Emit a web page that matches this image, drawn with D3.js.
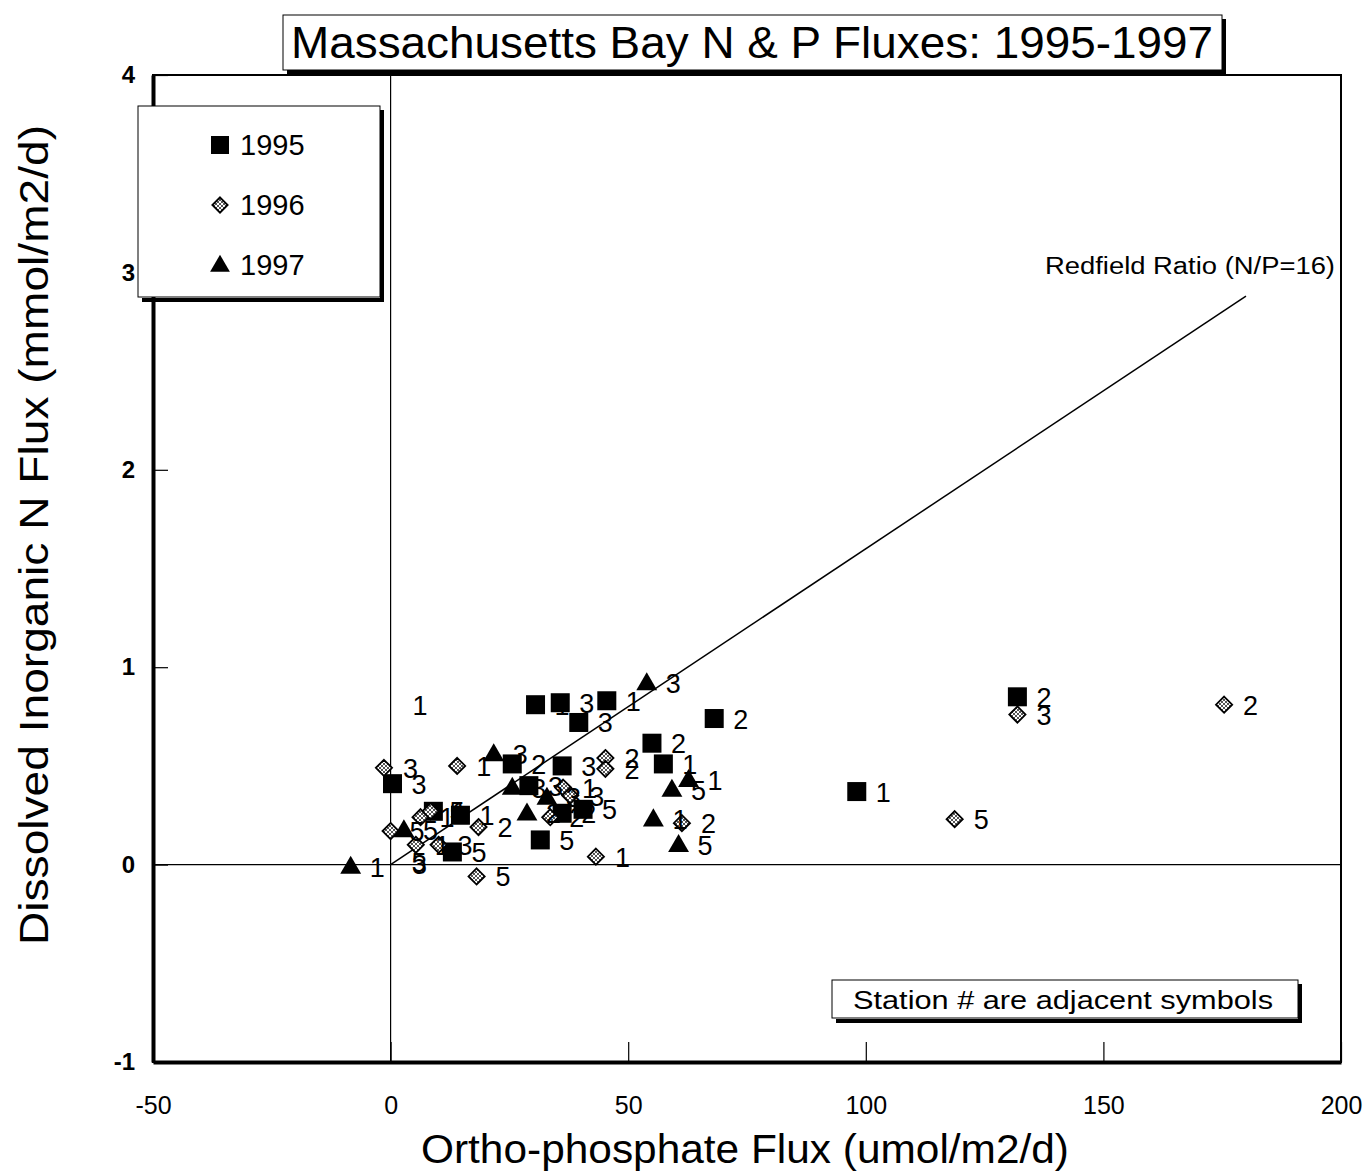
<!DOCTYPE html>
<html>
<head>
<meta charset="utf-8">
<script src="https://cdn.jsdelivr.net/npm/d3@7"></script>
<style>
  body { margin: 0; background: #fff; }
  text { font-family: "Liberation Sans", Arial, sans-serif; fill: #000; }
  .narrow { font-family: "Liberation Sans Narrow", "Arial Narrow", "Liberation Sans", Arial, sans-serif; }
</style>
</head>
<body>
<div id="chart"></div>
<script>
// data: [P flux (umol/m2/d), N flux (mmol/m2/d), station]
var flux1995 = [
  [0.4, 0.41, 3], [9.0, 0.27, 1], [14.7, 0.25, 1], [13.0, 0.064, 5],
  [25.6, 0.51, 2], [29.1, 0.40, 3], [30.5, 0.81, 1], [35.7, 0.82, 3],
  [39.6, 0.72, 3], [45.5, 0.83, 1], [36.1, 0.50, 3], [36.1, 0.26, 2],
  [40.5, 0.28, 5], [31.5, 0.125, 5], [55.0, 0.615, 2], [57.4, 0.51, 1],
  [68.1, 0.74, 2], [98.1, 0.37, 1], [131.9, 0.85, 2]
];
var flux1996 = [
  [-1.4, 0.49, 3], [0.0, 0.17, 5], [6.3, 0.24, 1], [8.4, 0.27, 5],
  [5.3, 0.10, 1], [10.1, 0.10, 3], [14.0, 0.50, 1], [18.5, 0.19, 2],
  [18.1, -0.06, 5], [36.3, 0.39, 1], [37.8, 0.35, 3], [33.6, 0.24, 2],
  [45.2, 0.54, 2], [45.2, 0.485, 2], [43.2, 0.04, 1], [61.3, 0.21, 2],
  [131.9, 0.76, 3], [118.7, 0.23, 5], [175.4, 0.81, 2]
];
var flux1997 = [
  [-8.4, -0.01, 1], [2.8, 0.175, 5], [21.7, 0.56, 3], [25.6, 0.39, 3],
  [32.9, 0.34, 3], [28.7, 0.26, 2], [53.9, 0.92, 3], [62.7, 0.43, 1],
  [59.2, 0.38, 5], [55.3, 0.23, 1], [60.6, 0.10, 5]
];
// station numbers whose symbol is not visible
var strayLabels = [[0.6, 0.81, 1], [0.4, 0.015, 5], [0.5, 0.005, 3]];

var years = ["1995", "1996", "1997"];
var xTicks = [-50, 0, 50, 100, 150, 200];
var yTicks = [-1, 0, 1, 2, 3, 4];
var redfield = 16;   // N/P
var redfieldMaxP = 180;

var W = 1366, H = 1175;
var svg = d3.select("#chart").append("svg")
  .attr("width", W).attr("height", H);

var defs = svg.append("defs");
var pat = defs.append("pattern").attr("id", "hatch")
  .attr("patternUnits", "userSpaceOnUse").attr("width", 4).attr("height", 4);
pat.append("rect").attr("width", 4).attr("height", 4).attr("fill", "#fff");
pat.append("path").attr("d", "M0,0L4,4M4,0L0,4").attr("stroke", "#555").attr("stroke-width", 1);

var x = d3.scaleLinear().domain([-50, 200]).range([153, 1341]);
var y = d3.scaleLinear().domain([-1, 4]).range([1062, 75]);

// frame
svg.append("rect").attr("x", 153).attr("y", 75).attr("width", 1188).attr("height", 987)
  .attr("fill", "none").attr("stroke", "#000").attr("stroke-width", 2);

// zero lines
svg.append("line").attr("x1", x(0)).attr("x2", x(0)).attr("y1", y(4)).attr("y2", y(-1))
  .attr("stroke", "#000").attr("stroke-width", 1.2);
svg.append("line").attr("x1", x(-50)).attr("x2", x(200)).attr("y1", y(0)).attr("y2", y(0))
  .attr("stroke", "#000").attr("stroke-width", 1.2);

// axes
var fmt = function(d) { return String(d); };
var xAxis = svg.append("g").attr("transform", "translate(0,1062)")
  .call(d3.axisBottom(x).tickValues(xTicks).tickFormat(fmt).tickSizeInner(-20).tickSizeOuter(0).tickPadding(34));
xAxis.select(".domain").attr("stroke-width", 4);
xAxis.selectAll(".tick line").attr("stroke-width", 1.2);
xAxis.selectAll(".tick text").style("font-size", "25px").attr("font-family", null);

var yAxis = svg.append("g").attr("transform", "translate(153,0)")
  .call(d3.axisLeft(y).tickValues(yTicks).tickFormat(fmt).tickSizeInner(-15).tickSizeOuter(0).tickPadding(18));
yAxis.select(".domain").attr("stroke-width", 4);
yAxis.selectAll(".tick line").attr("stroke-width", 1.2);
yAxis.selectAll(".tick text").style("font-size", "24px").style("font-weight", "bold")
  .attr("font-family", null);

// Redfield line
svg.append("line")
  .attr("x1", x(0)).attr("y1", y(0))
  .attr("x2", x(redfieldMaxP)).attr("y2", y(redfieldMaxP * redfield / 1000))
  .attr("stroke", "#000").attr("stroke-width", 1.5);
svg.append("text").attr("x", 1045).attr("y", 274)
  .style("font-size", "23px").attr("textLength", 290).attr("lengthAdjust", "spacingAndGlyphs")
  .text("Redfield Ratio (N/P=16)");

// symbols
function drawSymbol(g, type, cx, cy, s) {
  if (type === "1995") {
    g.append("rect").attr("x", cx - s / 2).attr("y", cy - s / 2)
      .attr("width", s).attr("height", s).attr("fill", "#000");
  } else if (type === "1996") {
    var r = s * 0.45;
    g.append("path")
      .attr("d", "M" + cx + "," + (cy - r) + "L" + (cx + r) + "," + cy + "L" + cx + "," + (cy + r) + "L" + (cx - r) + "," + cy + "Z")
      .attr("fill", "url(#hatch)").attr("stroke", "#000").attr("stroke-width", 1.8);
  } else {
    var h = s * 0.95;
    g.append("path")
      .attr("d", "M" + cx + "," + (cy - h * 0.6) + "L" + (cx + s * 0.55) + "," + (cy + h * 0.4) + "L" + (cx - s * 0.55) + "," + (cy + h * 0.4) + "Z")
      .attr("fill", "#000");
  }
}

var series = [["1995", flux1995], ["1996", flux1996], ["1997", flux1997]];
var marks = svg.append("g");
var labels = svg.append("g");

series.forEach(function(sr) {
  sr[1].forEach(function(d) {
    labels.append("text")
      .attr("x", x(d[0]) + 19).attr("y", y(d[1]) + 10)
      .style("font-size", "27px").text(d[2]);
  });
});
strayLabels.forEach(function(d) {
  labels.append("text")
    .attr("x", x(d[0]) + 19).attr("y", y(d[1]) + 10)
    .style("font-size", "27px").text(d[2]);
});
series.forEach(function(sr) {
  sr[1].forEach(function(d) {
    drawSymbol(marks, sr[0], x(d[0]), y(d[1]), sr[0] === "1996" ? 18 : 19);
  });
});
labels.raise();

// legend
var leg = svg.append("g");
leg.append("path").attr("d", "M382,110V300H142").attr("fill", "none").attr("stroke", "#000").attr("stroke-width", 4);
leg.append("rect").attr("x", 138).attr("y", 106).attr("width", 242).attr("height", 191)
  .attr("fill", "#fff").attr("stroke", "#000").attr("stroke-width", 1);
years.forEach(function(yr, i) {
  var cy = 145 + i * 60;
  drawSymbol(leg, yr, 220, cy, yr === "1996" ? 17 : 18);
  leg.append("text").attr("x", 240).attr("y", cy + 10)
    .style("font-size", "29px").text(yr);
});

// title box
svg.append("path").attr("d", "M1224,19V72H287").attr("fill", "none").attr("stroke", "#000").attr("stroke-width", 4);
svg.append("rect").attr("x", 283).attr("y", 15).attr("width", 939).attr("height", 55)
  .attr("fill", "#fff").attr("stroke", "#000").attr("stroke-width", 1);
svg.append("text").attr("class", "narrow").attr("x", 752).attr("y", 58)
  .attr("text-anchor", "middle").style("font-size", "44px")
  .attr("textLength", 922).attr("lengthAdjust", "spacingAndGlyphs")
  .text("Massachusetts Bay N & P Fluxes: 1995-1997");

// note box
svg.append("path").attr("d", "M1300,984V1021H836").attr("fill", "none").attr("stroke", "#000").attr("stroke-width", 4);
svg.append("rect").attr("x", 832).attr("y", 980).attr("width", 466).attr("height", 38)
  .attr("fill", "#fff").attr("stroke", "#000").attr("stroke-width", 1);
svg.append("text").attr("x", 1063).attr("y", 1009).attr("text-anchor", "middle")
  .style("font-size", "26px").attr("textLength", 420).attr("lengthAdjust", "spacingAndGlyphs")
  .text("Station # are adjacent symbols");

// axis titles
svg.append("text").attr("class", "narrow").attr("x", 745).attr("y", 1163)
  .attr("text-anchor", "middle").style("font-size", "40px")
  .attr("textLength", 648).attr("lengthAdjust", "spacingAndGlyphs")
  .text("Ortho-phosphate Flux (umol/m2/d)");
svg.append("text").attr("class", "narrow")
  .attr("transform", "translate(48,535) rotate(-90)")
  .attr("text-anchor", "middle").style("font-size", "40px")
  .attr("textLength", 820).attr("lengthAdjust", "spacingAndGlyphs")
  .text("Dissolved Inorganic N Flux (mmol/m2/d)");
</script>
</body>
</html>
